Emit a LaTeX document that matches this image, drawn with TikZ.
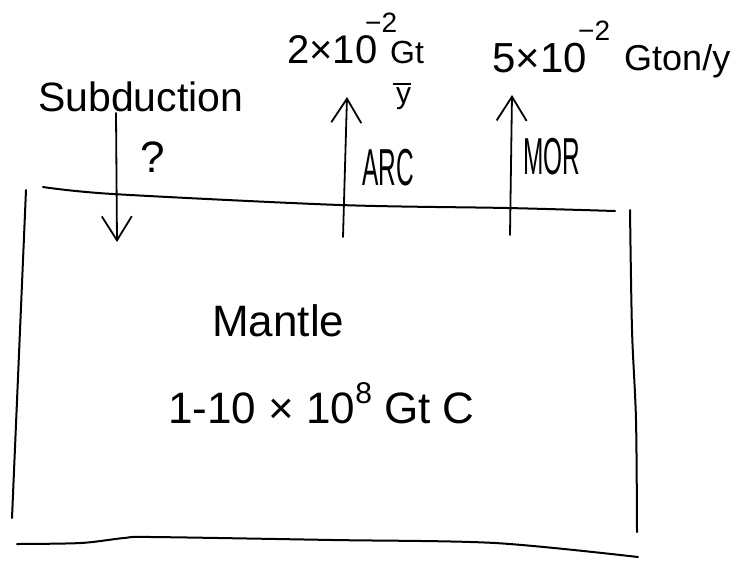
\documentclass[tikz,border=0pt]{standalone}
\usepackage{fontspec}
\setmainfont{Liberation Sans}
\usepackage{graphicx}
\usetikzlibrary{arrows.meta}
\newcommand{\narrowtxt}[1]{\scalebox{0.47}[1]{#1}}
\begin{document}
\begin{tikzpicture}[x=1pt,y=-1pt,
  ink/.style={line width=2pt, line cap=round, line join=round},
  flux/.style={line width=1.8pt, line cap=round, -{Straight Barb[length=24pt,width=30pt,line width=1.8pt]}},
  lbl/.style={inner sep=0pt, anchor=base west, font=\fontsize{#1}{#1}\selectfont},
]
\useasboundingbox (0,0) rectangle (743,560);

% the mantle box (hand-drawn sides)
\draw[ink] (26,190) -- (12,518);
\draw[ink] plot[smooth] coordinates {(43,187) (113,194) (340,205) (507,208) (615,211)};
\draw[ink] plot[smooth] coordinates {(630,210) (632,330) (636,420) (637,532)};
\draw[ink] plot[smooth] coordinates {(17,544) (81,543) (124,538) (152,537) (333,540) (495,543) (638,557)};

% labels
\node[lbl=41] (sub) at (38,111) {Subduction};
\node[lbl=44] (q) at (140,172) {?};

\node[lbl=40] (arcA) at (287,63) {2×10};
\node[lbl=28] (arcE) at (365,32) {−2};
\node[lbl=32] (arcU) at (390,63) {Gt};
\node[lbl=30] (arcY) at (396,103) {y};
\draw[line width=1.6pt] ([xshift=-3pt,yshift=3pt]arcY.north west) -- ([yshift=3pt]arcY.north east);

\node[lbl=42] (morA) at (492,72) {5×10};
\node[lbl=28] (morE) at (578,40) {−2};
\node[lbl=36] (morU) at (624,70) {Gton/y};

\node[lbl=52] (arcL) at (362,185) {\narrowtxt{ARC}};
\node[lbl=52] (morL) at (523,174) {\narrowtxt{MOR}};

\node[lbl=44] (mantle) at (212,336) {Mantle};
\node[lbl=44] (mass) at (168,423) {1-10 × 10\raisebox{0.45em}{\fontsize{30}{30}\selectfont 8} Gt C};

% fluxes
\coordinate (subS) at (116,113);
\coordinate (subE) at (117,242);
\coordinate (arcB) at (343,237);
\coordinate (arcT) at (347,97);
\coordinate (morB) at (510,235);
\coordinate (morT) at (512,95);
\draw[flux] (subS) -- (subE);
\draw[flux] (arcB) -- (arcT);
\draw[flux] (morB) -- (morT);
\end{tikzpicture}
\end{document}
